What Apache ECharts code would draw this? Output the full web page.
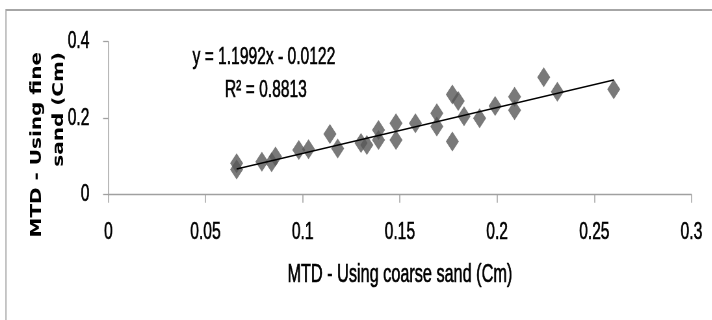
<!DOCTYPE html>
<html>
<head>
<meta charset="utf-8">
<script src="https://cdn.jsdelivr.net/npm/echarts@6/dist/echarts.min.js"></script>
<style>
  html, body { margin: 0; padding: 0; background: #fff; overflow: hidden; }
  #wrap { width: 712px; height: 320px; overflow: hidden; }
  /* The chart is laid out wide and then narrowed horizontally, which gives
     the condensed lettering and the tall diamond markers of the figure. */
  #chart { width: 1095px; height: 320px; transform: scaleX(0.65); transform-origin: 0 0; }
</style>
</head>
<body>
<div id="wrap"><div id="chart"></div></div>
<script>
// MTD measured with coarse sand (x) against fine sand (y), in cm
const coarseSand = [0.066, 0.066, 0.079, 0.086, 0.084, 0.098, 0.103, 0.114, 0.118, 0.130,
                    0.133, 0.139, 0.139, 0.148, 0.148, 0.158, 0.169, 0.169, 0.177, 0.177,
                    0.180, 0.183, 0.191, 0.199, 0.209, 0.209, 0.224, 0.231, 0.260];
const fineSand   = [0.082, 0.066, 0.086, 0.100, 0.085, 0.117, 0.119, 0.159, 0.121, 0.135,
                    0.130, 0.169, 0.143, 0.187, 0.143, 0.187, 0.213, 0.178, 0.139, 0.262,
                    0.245, 0.205, 0.200, 0.232, 0.256, 0.221, 0.307, 0.269, 0.276];

// Linear trend line fitted in the spreadsheet
const trendSlope = 1.1992;
const trendIntercept = -0.0122;
const trendR2 = 0.8813;

// Axis ranges and tick steps
const xAxisRange = [0, 0.3, 0.05];
const yAxisRange = [0, 0.4, 0.2];

const xTitle = 'MTD - Using coarse sand (Cm)';
const yTitleLines = ['MTD - Using fine', 'sand (Cm)'];

const sans = "'Liberation Sans', Arial, sans-serif";
const axisGray = '#a0a0a0';
// a hairline outline gives the lettering a slightly heavier weight
const heavy = { textBorderColor: '#000', textBorderWidth: 0.6 };

const points = coarseSand.map((x, i) => [x, fineSand[i]]);
const xMin = Math.min(...coarseSand);
const xMax = Math.max(...coarseSand);
const trendLine = [xMin, xMax].map(x => [x, trendSlope * x + trendIntercept]);

const sign = trendIntercept < 0 ? '-' : '+';
const equationText = 'y = ' + trendSlope.toFixed(4) + 'x ' + sign + ' ' + Math.abs(trendIntercept).toFixed(4);
const r2Text = 'R² = ' + trendR2.toFixed(4);

const chart = echarts.init(document.getElementById('chart'), null, { renderer: 'canvas' });

chart.setOption({
  animation: false,
  backgroundColor: '#ffffff',
  grid: { left: 166.6, right: 31.2, top: 41.7, bottom: 125.3, containLabel: false },
  xAxis: {
    type: 'value',
    min: xAxisRange[0], max: xAxisRange[1], interval: xAxisRange[2],
    name: xTitle,
    nameLocation: 'middle',
    nameGap: 80,
    nameTextStyle: Object.assign({ fontFamily: sans, fontSize: 25, color: '#000', verticalAlign: 'middle' }, heavy),
    axisLine: { onZero: false, lineStyle: { color: axisGray, width: 1.3 } },
    axisTick: { show: true, inside: false, length: 8, lineStyle: { color: axisGray, width: 1.5 } },
    axisLabel: Object.assign({ margin: 26, fontFamily: sans, fontSize: 24, color: '#000' }, heavy),
    splitLine: { show: false }
  },
  yAxis: {
    type: 'value',
    min: yAxisRange[0], max: yAxisRange[1], interval: yAxisRange[2],
    axisLine: { show: true, onZero: false, lineStyle: { color: axisGray, width: 1.5 } },
    axisTick: { show: true, inside: false, length: 8, lineStyle: { color: axisGray, width: 1.3 } },
    axisLabel: Object.assign({ margin: 29, fontFamily: sans, fontSize: 24, color: '#000' }, heavy),
    splitLine: { show: false }
  },
  graphic: [
    {
      type: 'rect', silent: true, z: -1,
      shape: { x: 9.2, y: 10, width: 1200, height: 400 },
      style: { fill: 'none', stroke: '#a6a6a6', lineWidth: 1.8 }
    },
    {
      type: 'text', x: 57, y: 52, rotation: Math.PI / 2, scaleY: 1.15,
      style: { text: yTitleLines[0], fontFamily: 'DejaVu Sans', fontWeight: 'bold', fontSize: 20,
               fill: '#000', align: 'right', verticalAlign: 'middle' }
    },
    {
      type: 'text', x: 91, y: 52, rotation: Math.PI / 2, scaleY: 1.15,
      style: { text: yTitleLines[1], fontFamily: 'DejaVu Sans', fontWeight: 'bold', fontSize: 20,
               fill: '#000', align: 'right', verticalAlign: 'middle' }
    },
    {
      type: 'text', x: 406, y: 57,
      style: Object.assign({ text: equationText, fontFamily: sans, fontSize: 24, fill: '#000',
               align: 'center', verticalAlign: 'middle', stroke: '#000', lineWidth: 0.6 })
    },
    {
      type: 'text', x: 409, y: 90,
      style: Object.assign({ text: r2Text, fontFamily: sans, fontSize: 24, fill: '#000',
               align: 'center', verticalAlign: 'middle', stroke: '#000', lineWidth: 0.6 })
    }
  ],
  series: [
    {
      type: 'scatter',
      data: points,
      symbol: 'diamond',
      symbolSize: [20, 20],
      itemStyle: { color: '#585858' },
      z: 2
    },
    {
      type: 'line',
      data: trendLine,
      showSymbol: false,
      symbol: 'none',
      lineStyle: { color: '#000', width: 1.5 },
      z: 3
    }
  ]
});
</script>
</body>
</html>
